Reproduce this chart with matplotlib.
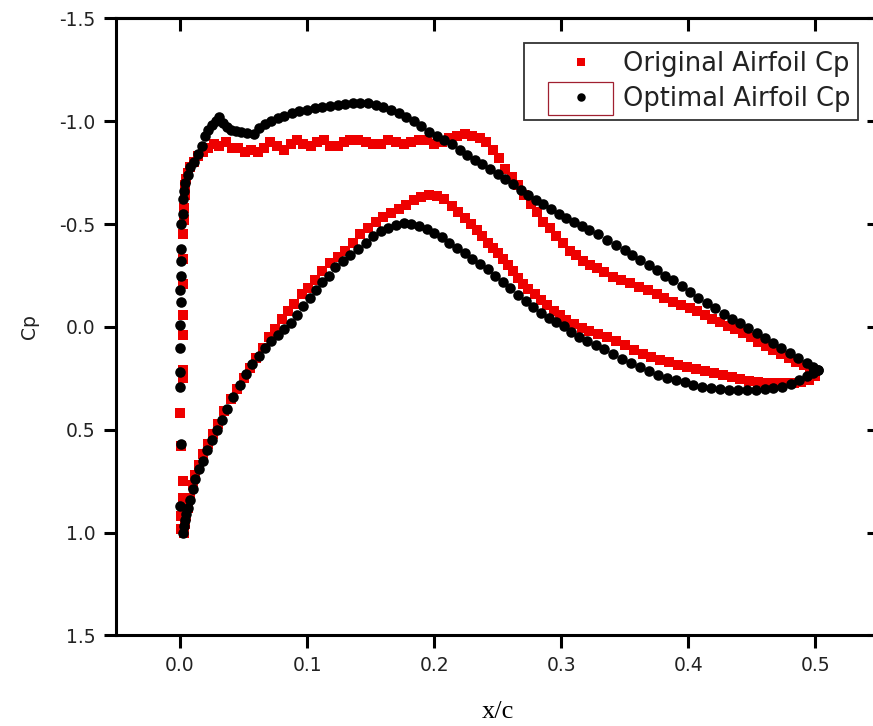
import matplotlib
matplotlib.use('Agg')
import matplotlib.pyplot as plt
from matplotlib.patches import Rectangle

plt.rcParams['font.family'] = ['DejaVu Sans']
plt.rcParams['axes.unicode_minus'] = False

# original airfoil, leading-edge column and upper surface
x_orig_upper = [0.001, 0.001, 0.002, 0.002, 0.001, 0.0, 0.002, 0.002, 0.002, 0.002, 0.002, 0.002,
                0.002, 0.003, 0.003, 0.004, 0.004, 0.005,
                0.006, 0.008, 0.011, 0.014, 0.018, 0.022, 0.027, 0.031, 0.036, 0.041, 0.046, 0.051,
                0.056, 0.061, 0.066, 0.071, 0.076, 0.082, 0.087, 0.092, 0.097, 0.103, 0.108, 0.113,
                0.118, 0.124, 0.129, 0.134, 0.140, 0.146, 0.152, 0.158, 0.164, 0.170, 0.176, 0.182,
                0.188, 0.194, 0.200, 0.206, 0.212, 0.218, 0.224, 0.230, 0.236, 0.241, 0.246, 0.251,
                0.256, 0.261, 0.266, 0.271, 0.276, 0.281, 0.286, 0.291, 0.296, 0.301, 0.307, 0.312,
                0.317, 0.323, 0.328, 0.334, 0.341, 0.347, 0.354, 0.361, 0.368, 0.375, 0.381, 0.388,
                0.394, 0.401, 0.407, 0.413, 0.419, 0.425, 0.431, 0.437, 0.443, 0.449, 0.455, 0.461,
                0.467, 0.473, 0.479, 0.485, 0.491, 0.496, 0.500]
cp_orig_upper = [0.98, 0.92, 0.83, 0.75, 0.58, 0.42, 0.25, 0.21, 0.04, -0.06, -0.21, -0.33,
                 -0.45, -0.52, -0.58, -0.64, -0.69, -0.72,
                 -0.75, -0.78, -0.80, -0.83, -0.85, -0.87, -0.89, -0.88, -0.90, -0.87, -0.87, -0.85,
                 -0.86, -0.85, -0.87, -0.90, -0.88, -0.86, -0.89, -0.91, -0.89, -0.88, -0.90, -0.91,
                 -0.88, -0.88, -0.90, -0.91, -0.91, -0.90, -0.89, -0.89, -0.91, -0.90, -0.89, -0.90,
                 -0.91, -0.91, -0.89, -0.90, -0.92, -0.93, -0.94, -0.93, -0.92, -0.90, -0.86, -0.82,
                 -0.77, -0.73, -0.69, -0.64, -0.60, -0.56, -0.51, -0.48, -0.44, -0.41, -0.37, -0.35,
                 -0.32, -0.30, -0.285, -0.265, -0.245, -0.23, -0.213, -0.195, -0.178, -0.16, -0.14, -0.12,
                 -0.105, -0.09, -0.08, -0.06, -0.04, -0.024, -0.005, 0.012, 0.03, 0.05, 0.075, 0.095,
                 0.113, 0.13, 0.15, 0.17, 0.185, 0.20, 0.215]

# original airfoil, lower surface
x_orig_lower = [0.003, 0.004, 0.005, 0.006, 0.008, 0.010, 0.012, 0.015, 0.018, 0.022, 0.026, 0.030,
                0.035, 0.040, 0.045, 0.050, 0.055, 0.060, 0.065, 0.070, 0.075, 0.080, 0.085, 0.090,
                0.096, 0.101, 0.106, 0.112, 0.118, 0.124, 0.130, 0.136, 0.142, 0.148, 0.154, 0.160,
                0.166, 0.172, 0.178, 0.184, 0.190, 0.196, 0.202, 0.208, 0.214, 0.219, 0.224, 0.229,
                0.234, 0.238, 0.242, 0.246, 0.250, 0.254, 0.258, 0.262, 0.266, 0.270, 0.274, 0.279,
                0.284, 0.289, 0.294, 0.299, 0.304, 0.310, 0.316, 0.322, 0.329, 0.336, 0.343, 0.350,
                0.357, 0.364, 0.371, 0.378, 0.385, 0.392, 0.399, 0.406, 0.413, 0.420, 0.427, 0.434,
                0.441, 0.448, 0.455, 0.462, 0.469, 0.476, 0.483, 0.489, 0.495, 0.500]
cp_orig_lower = [1.00, 0.96, 0.92, 0.88, 0.83, 0.77, 0.72, 0.67, 0.62, 0.57, 0.52, 0.47,
                 0.41, 0.35, 0.30, 0.25, 0.20, 0.15, 0.10, 0.05, 0.01, -0.04, -0.08, -0.11,
                 -0.16, -0.19, -0.23, -0.27, -0.31, -0.34, -0.37, -0.41, -0.45, -0.48, -0.51, -0.535,
                 -0.555, -0.575, -0.595, -0.615, -0.63, -0.64, -0.635, -0.62, -0.59, -0.56, -0.53, -0.50,
                 -0.47, -0.44, -0.41, -0.385, -0.36, -0.33, -0.30, -0.27, -0.24, -0.21, -0.185, -0.16,
                 -0.13, -0.105, -0.08, -0.058, -0.035, -0.015, 0.005, 0.02, 0.035, 0.05, 0.07, 0.09,
                 0.11, 0.13, 0.145, 0.16, 0.172, 0.183, 0.195, 0.205, 0.215, 0.225, 0.235, 0.245,
                 0.255, 0.262, 0.267, 0.271, 0.273, 0.274, 0.274, 0.27, 0.26, 0.24]

# optimal airfoil, leading-edge column and upper surface
x_opt_upper = [0.0, 0.001, 0.0, 0.0, 0.0, 0.0, 0.001, 0.0, 0.001, 0.001, 0.001, 0.001, 0.002, 0.002,
               0.003, 0.004, 0.006, 0.008, 0.011, 0.014, 0.017, 0.020, 0.022, 0.025, 0.028, 0.031,
               0.034, 0.037, 0.040, 0.044, 0.048, 0.053, 0.058, 0.062, 0.067, 0.072, 0.077, 0.082,
               0.088, 0.094, 0.100, 0.106, 0.112, 0.118, 0.124, 0.130, 0.136, 0.142, 0.148, 0.154,
               0.160, 0.166, 0.172, 0.178, 0.184, 0.190, 0.196, 0.202, 0.208, 0.214, 0.220, 0.226,
               0.232, 0.238, 0.244, 0.250, 0.256, 0.262, 0.268, 0.274, 0.280, 0.286, 0.292, 0.298,
               0.304, 0.310, 0.316, 0.322, 0.329, 0.336, 0.343, 0.350, 0.356, 0.362, 0.369, 0.375,
               0.382, 0.388, 0.395, 0.401, 0.408, 0.415, 0.421, 0.428, 0.434, 0.441, 0.447, 0.454,
               0.460, 0.467, 0.473, 0.480, 0.486, 0.493, 0.498, 0.502]
cp_opt_upper = [0.87, 0.57, 0.29, 0.22, 0.10, -0.01, -0.12, -0.18, -0.25, -0.32, -0.38, -0.50, -0.55, -0.62,
                -0.66, -0.70, -0.74, -0.78, -0.80, -0.84, -0.88, -0.93, -0.96, -0.98, -1.00, -1.02,
                -0.99, -0.97, -0.96, -0.955, -0.95, -0.945, -0.94, -0.965, -0.985, -1.00, -1.015, -1.025,
                -1.04, -1.05, -1.055, -1.065, -1.07, -1.075, -1.08, -1.085, -1.088, -1.09, -1.088, -1.08,
                -1.07, -1.055, -1.04, -1.02, -1.00, -0.975, -0.95, -0.93, -0.91, -0.89, -0.86, -0.835,
                -0.81, -0.79, -0.77, -0.745, -0.72, -0.695, -0.665, -0.64, -0.615, -0.60, -0.575, -0.55,
                -0.53, -0.51, -0.49, -0.47, -0.45, -0.423, -0.40, -0.375, -0.35, -0.325, -0.30, -0.275,
                -0.25, -0.228, -0.20, -0.17, -0.14, -0.116, -0.09, -0.065, -0.04, -0.019, 0.005, 0.03,
                0.055, 0.078, 0.10, 0.125, 0.15, 0.176, 0.195, 0.21]

# optimal airfoil, lower surface
x_opt_lower = [0.002, 0.003, 0.004, 0.005, 0.006, 0.008, 0.010, 0.012, 0.015, 0.018, 0.021, 0.025,
               0.029, 0.033, 0.037, 0.042, 0.047, 0.052, 0.057, 0.062, 0.067, 0.072, 0.077, 0.082,
               0.087, 0.092, 0.097, 0.102, 0.107, 0.112, 0.117, 0.122, 0.128, 0.134, 0.140, 0.146,
               0.152, 0.158, 0.164, 0.170, 0.176, 0.182, 0.188, 0.194, 0.200, 0.206, 0.212, 0.218,
               0.224, 0.230, 0.236, 0.242, 0.248, 0.254, 0.260, 0.266, 0.272, 0.278, 0.284, 0.290,
               0.296, 0.302, 0.308, 0.314, 0.320, 0.327, 0.334, 0.341, 0.348, 0.355, 0.362, 0.369,
               0.376, 0.383, 0.390, 0.397, 0.404, 0.411, 0.418, 0.425, 0.432, 0.439, 0.446, 0.453,
               0.460, 0.467, 0.474, 0.481, 0.487, 0.493, 0.498, 0.502]
cp_opt_lower = [1.00, 0.97, 0.94, 0.91, 0.88, 0.84, 0.79, 0.74, 0.69, 0.65, 0.60, 0.55,
                0.50, 0.45, 0.40, 0.34, 0.28, 0.23, 0.18, 0.14, 0.10, 0.07, 0.04, 0.01,
                -0.02, -0.06, -0.10, -0.14, -0.18, -0.22, -0.25, -0.29, -0.32, -0.35, -0.38, -0.41,
                -0.44, -0.465, -0.48, -0.495, -0.505, -0.50, -0.49, -0.475, -0.455, -0.435, -0.41, -0.385,
                -0.36, -0.33, -0.305, -0.28, -0.25, -0.22, -0.19, -0.155, -0.125, -0.095, -0.07, -0.045,
                -0.025, -0.005, 0.025, 0.05, 0.07, 0.09, 0.105, 0.13, 0.155, 0.175, 0.195, 0.215,
                0.235, 0.25, 0.26, 0.27, 0.28, 0.29, 0.295, 0.30, 0.305, 0.307, 0.308, 0.306,
                0.302, 0.297, 0.29, 0.275, 0.258, 0.24, 0.225, 0.21]

x_ticks = [0.0, 0.1, 0.2, 0.3, 0.4, 0.5]
y_ticks = [-1.5, -1.0, -0.5, 0.0, 0.5, 1.0, 1.5]

fig = plt.figure(figsize=(8.73, 7.26), dpi=100)
ax = fig.add_axes([0.1334, 0.1247, 0.8734, 0.8499])

red = '#ee0000'
ax.plot(x_orig_upper + x_orig_lower, cp_orig_upper + cp_orig_lower, linestyle='none',
        marker='s', markersize=7.4, color=red, markeredgewidth=0, label='Original Airfoil Cp', zorder=2)
ax.plot(x_opt_upper + x_opt_lower, cp_opt_upper + cp_opt_lower, linestyle='none',
        marker='o', markersize=7.6, color='black', markeredgewidth=0, label='Optimal Airfoil Cp', zorder=3)

ax.set_xlim(-0.05, 0.55)
ax.set_ylim(1.5, -1.5)
ax.set_xticks(x_ticks)
ax.set_xticklabels(['%.1f' % v for v in x_ticks])
ax.set_yticks(y_ticks)
ax.set_yticklabels(['%.1f' % v for v in y_ticks])

for sp in ax.spines.values():
    sp.set_linewidth(2.2)
ax.tick_params(direction='out', length=9, width=2.2, labelsize=13.5, pad=6, labelcolor='#222222')

# inward ticks on top and right
top = ax.secondary_xaxis('top')
top.set_xticks(x_ticks)
top.tick_params(direction='in', length=9, width=2.2, labeltop=False)
top.spines['top'].set_linewidth(2.2)
right = ax.secondary_yaxis('right')
right.set_yticks(y_ticks)
right.tick_params(direction='in', length=9, width=2.2, labelright=False)
right.spines['right'].set_linewidth(2.2)

ax.set_ylabel('Cp', fontsize=13.5, color='#222222', va='center')
ax.yaxis.set_label_coords(-0.1134, 0.5)
ax.set_xlabel('x/c', fontsize=19, family='Liberation Serif', va='center')
ax.xaxis.set_label_coords(0.5, -0.124)

leg = ax.legend(loc='upper right', bbox_to_anchor=(0.9725, 0.960), borderaxespad=0,
                fontsize=18.5, frameon=True, fancybox=False, edgecolor='black',
                handlelength=3.84, handletextpad=-0.28, borderpad=0.3, labelspacing=0.35,
                markerscale=0.8)
leg.get_frame().set_linewidth(1.3)
for t in leg.get_texts():
    t.set_color('#222222')

# selection outline around the second legend marker
fig.patches.append(Rectangle((548 / 873, 1 - 115 / 726), 65 / 873, 33 / 726,
                             transform=fig.transFigure, fill=False,
                             edgecolor='#a02030', linewidth=0.9, zorder=10))

fig.savefig('out.png', dpi=100)
